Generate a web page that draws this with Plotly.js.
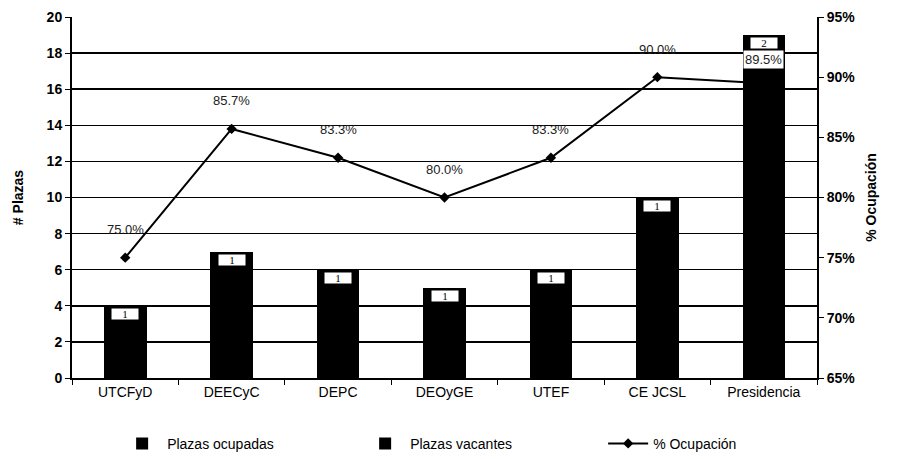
<!DOCTYPE html>
<html><head><meta charset="utf-8">
<script src="https://cdn.plot.ly/plotly-3.0.1.min.js"></script>
<style>body{margin:0;background:#fff}#c{width:901px;height:459px}</style>
</head><body><div id="c"></div>
<script>
const categories = ["UTCFyD","DEECyC","DEPC","DEOyGE","UTEF","CE JCSL","Presidencia"];
const ocupadas = [3,6,5,4,5,9,17];
const vacantes = [1,1,1,1,1,1,2];
const ocupacion = [0.75,0.857,0.833,0.80,0.833,0.90,0.895];
const ocupacionLabels = ["75.0%","85.7%","83.3%","80.0%","83.3%","90.0%","89.5%"];

const font = {family:"Liberation Sans, Arial, sans-serif", color:"#000", size:13};
const traces = [
 {type:"bar", name:"Plazas ocupadas", x:categories, y:ocupadas, marker:{color:"#000"}, hoverinfo:"skip"},
 {type:"bar", name:"Plazas vacantes", x:categories, y:vacantes, marker:{color:"#000"}, hoverinfo:"skip"},
 {type:"scatter", mode:"lines+markers", name:"% Ocupación", x:categories, y:ocupacion, yaxis:"y2",
  line:{color:"#000", width:2}, marker:{symbol:"diamond", size:8, color:"#000"}}
];
const annotations = [];
categories.forEach((c,i)=>{
  annotations.push({x:c, y:ocupadas[i]+vacantes[i], yanchor:"top", yshift:-2, xref:"x", yref:"y", text:String(vacantes[i]), showarrow:false,
    bgcolor:"#fff", font:{family:"Liberation Serif, serif", size:11, color:"#000"}, borderpad:0, width:26, height:10});
  annotations.push({x:c, y:ocupacion[i], xref:"x", yref:"y2", text:ocupacionLabels[i], showarrow:false, yshift:(i===6?24:28),
    bgcolor:(i===6?"#fff":"rgba(0,0,0,0)"),
    font:{family:"Liberation Sans, Arial, sans-serif", size:13, color:"#222"}});
});
const layout = {
  width:901, height:459, margin:{l:72, r:84, t:17, b:81},
  paper_bgcolor:"#fff", plot_bgcolor:"#fff", font:font,
  barmode:"stack", bargap:0.6, showlegend:true,
  legend:{orientation:"h", xref:"container", yref:"container", x:0.13, xanchor:"left", y:0.068, yanchor:"top",
    font:{size:14}, traceorder:"normal", entrywidth:188, itemwidth:40},
  xaxis:{showline:true, linecolor:"#000", linewidth:2, ticks:"outside", tickson:"boundaries", ticklen:5, tickcolor:"#000", tickfont:{size:14}},
  yaxis:{range:[0,20], dtick:2, showgrid:true, gridcolor:"#000", gridwidth:1.5, showline:true, linecolor:"#000", linewidth:2,
    ticks:"outside", ticklen:5, tickcolor:"#000", zeroline:false,
    title:{text:"<b># Plazas</b>", font:{size:14}, standoff:20}, tickfont:{size:14, weight:"bold"}},
  yaxis2:{overlaying:"y", side:"right", range:[0.65,0.95], dtick:0.05, tickformat:".0%", showgrid:false, showline:true,
    linecolor:"#000", linewidth:2, ticks:"outside", ticklen:5, tickcolor:"#000", zeroline:false,
    title:{text:"<b>% Ocupación</b>", font:{size:14}, standoff:12}, tickfont:{size:14, weight:"bold"}},
  annotations:annotations
};
Plotly.newPlot("c", traces, layout, {displayModeBar:false, staticPlot:true});
</script></body></html>
